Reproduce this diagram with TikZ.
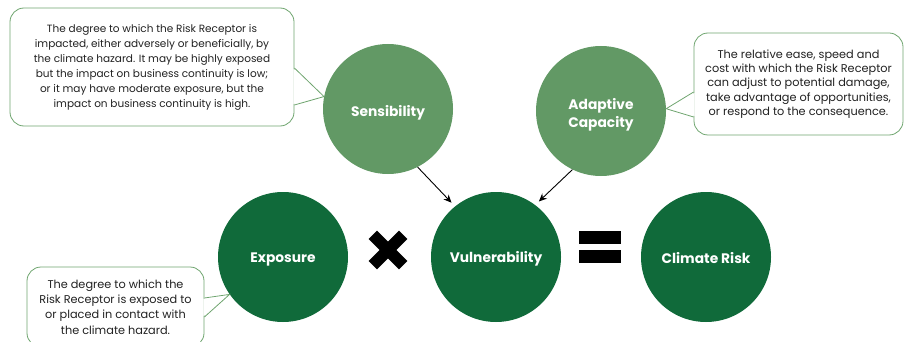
\documentclass[tikz,border=0pt]{standalone}
\usepackage{fontspec}
\setmainfont{Poppins}
\usetikzlibrary{arrows.meta,calc}
\definecolor{leaf}{HTML}{629965}
\definecolor{forest}{HTML}{106A3A}
\definecolor{rim}{HTML}{6FA56F}
\definecolor{ink}{HTML}{222222}

\begin{document}
\begin{tikzpicture}[x=1pt,y=-1pt,
  disc/.style={circle,minimum size=130pt,inner sep=0pt},
  lightdisc/.style={disc,fill=leaf},
  darkdisc/.style={disc,fill=forest},
  caption/.style={inner sep=0pt,text=white,align=center,
    font=\fontsize{13.8}{18}\selectfont\bfseries},
  oneline/.style={caption,text height=9.8pt,text depth=0pt},
  note/.style={draw=rim,line width=0.8pt,fill=white,rounded corners=14pt,
    inner sep=0pt,align=center,text=ink},
  tail/.style={draw=rim,line width=0.8pt},
  link/.style={-{Stealth[length=8pt,width=7pt]},line width=0.9pt,shorten >=5pt}]

\useasboundingbox (0,0) rectangle (904,342);
\clip (0,0) rectangle (904,342);

% circles
\node[lightdisc] (sens)  at (388,109) {};
\node[lightdisc] (adapt) at (601,111) {};
\node[darkdisc]  (exp)   at (283,257) {};
\node[darkdisc]  (vul)   at (496,257) {};
\node[darkdisc]  (risk)  at (706,257) {};

% circle captions
\node[oneline] (sensT)  at ($(sens)+(0,3)$)  {Sensibility};
\node[caption] (adaptT) at ($(adapt)+(0,4)$) {Adaptive\\Capacity};
\node[oneline] (expT)   at ($(exp)+(0,1)$)   {Exposure};
\node[oneline] (vulT)   at ($(vul)+(0,1)$)   {Vulnerability};
\node[oneline] (riskT)  at ($(risk)+(0,1.5)$) {Climate Risk};

% arrows into vulnerability
\draw[link] (sens.-63) -- (vul.129);
\draw[link] (adapt.-116) -- (vul.53);

% multiplication sign
\draw[line width=12pt] (372.8,234.8) -- (403.2,265.2);
\draw[line width=12pt] (372.8,265.2) -- (403.2,234.8);

% equals sign
\fill (579,231) rectangle (621,244);
\fill (579,250) rectangle (621,263);

% callout for sensibility
\node[note,minimum width=284pt,minimum height=118pt,
      font=\fontsize{10.5}{15}\selectfont] (n1) at (152,67)
  {The degree to which the Risk Receptor is\\
   impacted, either adversely or beneficially, by\\
   the climate hazard. It may be highly exposed\\
   but the impact on business continuity is low;\\
   or it may have moderate exposure, but the\\
   impact on business continuity is high.};
\fill[white] ($(n1.east)+(-1,2)$) -- (sens.169) -- ($(n1.east)+(-1,37)$) -- cycle;
\draw[tail] ($(n1.east)+(0,1)$) -- (sens.169) -- ($(n1.east)+(0,38)$);

% callout for adaptive capacity
\node[note,minimum width=209pt,minimum height=102pt,
      font=\fontsize{11.3}{14.2}\selectfont] (n2) at (798.5,84)
  {The relative ease, speed and\\
   cost with which the Risk Receptor\\
   can adjust to potential damage,\\
   take advantage of opportunities,\\
   or respond to the consequence.};
\fill[white] ($(n2.west)+(1,9)$) -- (adapt.2) -- ($(n2.west)+(1,32)$) -- cycle;
\draw[tail] ($(n2.west)+(0,8)$) -- (adapt.2) -- ($(n2.west)+(0,33)$);

% callout for exposure
\node[note,minimum width=177pt,minimum height=80pt,
      font=\fontsize{11.3}{15.3}\selectfont] (n3) at (115.5,307)
  {The degree to which the\\
   Risk Receptor is exposed to\\
   or placed in contact with\\
   the climate hazard.};
\fill[white] ($(n3.east)+(-1,-8)$) -- (exp.-145) -- ($(n3.east)+(-1,9)$) -- cycle;
\draw[tail] ($(n3.east)+(0,-9)$) -- (exp.-145) -- ($(n3.east)+(0,10)$);
\end{tikzpicture}
\end{document}
